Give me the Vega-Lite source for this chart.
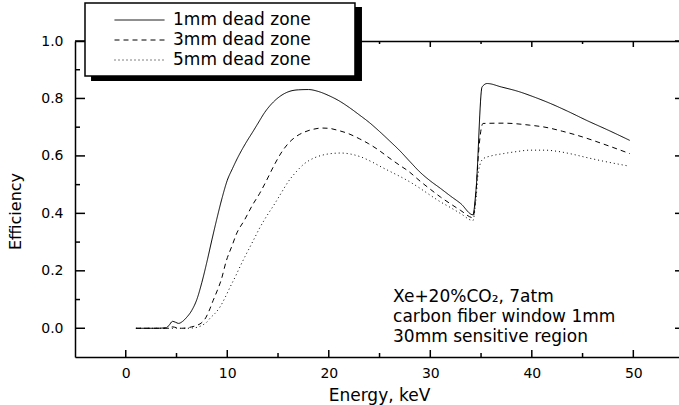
{
  "$schema": "https://vega.github.io/schema/vega-lite/v6.json",
  "width": 604,
  "height": 316,
  "autosize": {"type": "none"},
  "padding": {"left": 75, "top": 41, "right": 0, "bottom": 48},
  "background": "white",
  "config": {
    "view": {"stroke": null},
    "font": "DejaVu Sans",
    "axis": {
      "domainColor": "black", "domainWidth": 1.5,
      "labelColor": "black", "labelFont": "DejaVu Sans", "labelFontSize": 14,
      "titleColor": "black", "titleFont": "DejaVu Sans", "titleFontWeight": "normal",
      "grid": false, "labelOverlap": false, "labelFlush": false
    }
  },
  "datasets": {
    "curves": [
      {"E": 1, "eff": 0, "series": "1mm dead zone"},
      {"E": 2, "eff": 0, "series": "1mm dead zone"},
      {"E": 3, "eff": 0, "series": "1mm dead zone"},
      {"E": 4, "eff": 0.002, "series": "1mm dead zone"},
      {"E": 4.3, "eff": 0.012, "series": "1mm dead zone"},
      {"E": 4.6, "eff": 0.024, "series": "1mm dead zone"},
      {"E": 4.9, "eff": 0.021, "series": "1mm dead zone"},
      {"E": 5.2, "eff": 0.017, "series": "1mm dead zone"},
      {"E": 5.6, "eff": 0.024, "series": "1mm dead zone"},
      {"E": 6, "eff": 0.038, "series": "1mm dead zone"},
      {"E": 6.5, "eff": 0.062, "series": "1mm dead zone"},
      {"E": 7, "eff": 0.1, "series": "1mm dead zone"},
      {"E": 7.5, "eff": 0.16, "series": "1mm dead zone"},
      {"E": 8, "eff": 0.232, "series": "1mm dead zone"},
      {"E": 8.5, "eff": 0.31, "series": "1mm dead zone"},
      {"E": 9, "eff": 0.385, "series": "1mm dead zone"},
      {"E": 9.5, "eff": 0.455, "series": "1mm dead zone"},
      {"E": 10, "eff": 0.515, "series": "1mm dead zone"},
      {"E": 10.5, "eff": 0.555, "series": "1mm dead zone"},
      {"E": 11, "eff": 0.592, "series": "1mm dead zone"},
      {"E": 11.5, "eff": 0.625, "series": "1mm dead zone"},
      {"E": 12, "eff": 0.655, "series": "1mm dead zone"},
      {"E": 12.5, "eff": 0.683, "series": "1mm dead zone"},
      {"E": 13, "eff": 0.712, "series": "1mm dead zone"},
      {"E": 13.7, "eff": 0.752, "series": "1mm dead zone"},
      {"E": 14.7, "eff": 0.793, "series": "1mm dead zone"},
      {"E": 15.3, "eff": 0.81, "series": "1mm dead zone"},
      {"E": 16, "eff": 0.823, "series": "1mm dead zone"},
      {"E": 17, "eff": 0.83, "series": "1mm dead zone"},
      {"E": 18, "eff": 0.831, "series": "1mm dead zone"},
      {"E": 19, "eff": 0.824, "series": "1mm dead zone"},
      {"E": 20, "eff": 0.81, "series": "1mm dead zone"},
      {"E": 21, "eff": 0.792, "series": "1mm dead zone"},
      {"E": 22, "eff": 0.769, "series": "1mm dead zone"},
      {"E": 23, "eff": 0.743, "series": "1mm dead zone"},
      {"E": 24, "eff": 0.716, "series": "1mm dead zone"},
      {"E": 25, "eff": 0.685, "series": "1mm dead zone"},
      {"E": 26, "eff": 0.652, "series": "1mm dead zone"},
      {"E": 27, "eff": 0.618, "series": "1mm dead zone"},
      {"E": 28, "eff": 0.58, "series": "1mm dead zone"},
      {"E": 29, "eff": 0.543, "series": "1mm dead zone"},
      {"E": 30, "eff": 0.513, "series": "1mm dead zone"},
      {"E": 31, "eff": 0.487, "series": "1mm dead zone"},
      {"E": 32, "eff": 0.46, "series": "1mm dead zone"},
      {"E": 33, "eff": 0.434, "series": "1mm dead zone"},
      {"E": 34.2, "eff": 0.395, "series": "1mm dead zone"},
      {"E": 34.5, "eff": 0.48, "series": "1mm dead zone"},
      {"E": 35.1, "eff": 0.84, "series": "1mm dead zone"},
      {"E": 35.6, "eff": 0.852, "series": "1mm dead zone"},
      {"E": 37, "eff": 0.84, "series": "1mm dead zone"},
      {"E": 38.8, "eff": 0.823, "series": "1mm dead zone"},
      {"E": 40, "eff": 0.808, "series": "1mm dead zone"},
      {"E": 41.8, "eff": 0.783, "series": "1mm dead zone"},
      {"E": 43.5, "eff": 0.756, "series": "1mm dead zone"},
      {"E": 45.5, "eff": 0.722, "series": "1mm dead zone"},
      {"E": 47.5, "eff": 0.69, "series": "1mm dead zone"},
      {"E": 49.65, "eff": 0.654, "series": "1mm dead zone"},

      {"E": 1, "eff": 0, "series": "3mm dead zone"},
      {"E": 3, "eff": 0, "series": "3mm dead zone"},
      {"E": 4.2, "eff": 0, "series": "3mm dead zone"},
      {"E": 4.6, "eff": 0.005, "series": "3mm dead zone"},
      {"E": 5, "eff": 0.002, "series": "3mm dead zone"},
      {"E": 5.5, "eff": 0, "series": "3mm dead zone"},
      {"E": 6, "eff": 0.001, "series": "3mm dead zone"},
      {"E": 6.5, "eff": 0.005, "series": "3mm dead zone"},
      {"E": 7, "eff": 0.01, "series": "3mm dead zone"},
      {"E": 7.5, "eff": 0.02, "series": "3mm dead zone"},
      {"E": 7.8, "eff": 0.032, "series": "3mm dead zone"},
      {"E": 8.2, "eff": 0.06, "series": "3mm dead zone"},
      {"E": 8.6, "eff": 0.096, "series": "3mm dead zone"},
      {"E": 9, "eff": 0.13, "series": "3mm dead zone"},
      {"E": 9.4, "eff": 0.168, "series": "3mm dead zone"},
      {"E": 9.9, "eff": 0.234, "series": "3mm dead zone"},
      {"E": 10.5, "eff": 0.29, "series": "3mm dead zone"},
      {"E": 10.9, "eff": 0.328, "series": "3mm dead zone"},
      {"E": 11.7, "eff": 0.377, "series": "3mm dead zone"},
      {"E": 12.5, "eff": 0.43, "series": "3mm dead zone"},
      {"E": 13.2, "eff": 0.47, "series": "3mm dead zone"},
      {"E": 13.7, "eff": 0.503, "series": "3mm dead zone"},
      {"E": 14.7, "eff": 0.573, "series": "3mm dead zone"},
      {"E": 15.3, "eff": 0.61, "series": "3mm dead zone"},
      {"E": 16, "eff": 0.643, "series": "3mm dead zone"},
      {"E": 16.8, "eff": 0.668, "series": "3mm dead zone"},
      {"E": 17.6, "eff": 0.683, "series": "3mm dead zone"},
      {"E": 18.5, "eff": 0.693, "series": "3mm dead zone"},
      {"E": 19.3, "eff": 0.697, "series": "3mm dead zone"},
      {"E": 20, "eff": 0.696, "series": "3mm dead zone"},
      {"E": 21, "eff": 0.688, "series": "3mm dead zone"},
      {"E": 21.9, "eff": 0.678, "series": "3mm dead zone"},
      {"E": 23, "eff": 0.66, "series": "3mm dead zone"},
      {"E": 23.9, "eff": 0.643, "series": "3mm dead zone"},
      {"E": 25, "eff": 0.618, "series": "3mm dead zone"},
      {"E": 25.8, "eff": 0.597, "series": "3mm dead zone"},
      {"E": 27, "eff": 0.567, "series": "3mm dead zone"},
      {"E": 27.8, "eff": 0.548, "series": "3mm dead zone"},
      {"E": 29, "eff": 0.512, "series": "3mm dead zone"},
      {"E": 30, "eff": 0.484, "series": "3mm dead zone"},
      {"E": 31, "eff": 0.457, "series": "3mm dead zone"},
      {"E": 32, "eff": 0.433, "series": "3mm dead zone"},
      {"E": 33, "eff": 0.41, "series": "3mm dead zone"},
      {"E": 34.2, "eff": 0.385, "series": "3mm dead zone"},
      {"E": 34.5, "eff": 0.47, "series": "3mm dead zone"},
      {"E": 34.75, "eff": 0.61, "series": "3mm dead zone"},
      {"E": 35.2, "eff": 0.713, "series": "3mm dead zone"},
      {"E": 37.2, "eff": 0.714, "series": "3mm dead zone"},
      {"E": 39.8, "eff": 0.707, "series": "3mm dead zone"},
      {"E": 41.3, "eff": 0.7, "series": "3mm dead zone"},
      {"E": 43, "eff": 0.686, "series": "3mm dead zone"},
      {"E": 45, "eff": 0.666, "series": "3mm dead zone"},
      {"E": 47, "eff": 0.642, "series": "3mm dead zone"},
      {"E": 49.65, "eff": 0.608, "series": "3mm dead zone"},

      {"E": 1, "eff": 0, "series": "5mm dead zone"},
      {"E": 3, "eff": 0, "series": "5mm dead zone"},
      {"E": 5, "eff": 0, "series": "5mm dead zone"},
      {"E": 6, "eff": 0, "series": "5mm dead zone"},
      {"E": 7, "eff": 0.003, "series": "5mm dead zone"},
      {"E": 7.5, "eff": 0.01, "series": "5mm dead zone"},
      {"E": 8, "eff": 0.022, "series": "5mm dead zone"},
      {"E": 8.3, "eff": 0.035, "series": "5mm dead zone"},
      {"E": 8.8, "eff": 0.052, "series": "5mm dead zone"},
      {"E": 9.3, "eff": 0.075, "series": "5mm dead zone"},
      {"E": 9.8, "eff": 0.108, "series": "5mm dead zone"},
      {"E": 10.3, "eff": 0.145, "series": "5mm dead zone"},
      {"E": 10.8, "eff": 0.18, "series": "5mm dead zone"},
      {"E": 11.25, "eff": 0.214, "series": "5mm dead zone"},
      {"E": 11.75, "eff": 0.25, "series": "5mm dead zone"},
      {"E": 12.25, "eff": 0.284, "series": "5mm dead zone"},
      {"E": 12.7, "eff": 0.315, "series": "5mm dead zone"},
      {"E": 13.1, "eff": 0.343, "series": "5mm dead zone"},
      {"E": 13.7, "eff": 0.38, "series": "5mm dead zone"},
      {"E": 14.7, "eff": 0.435, "series": "5mm dead zone"},
      {"E": 15.3, "eff": 0.47, "series": "5mm dead zone"},
      {"E": 16, "eff": 0.51, "series": "5mm dead zone"},
      {"E": 16.8, "eff": 0.545, "series": "5mm dead zone"},
      {"E": 17.6, "eff": 0.573, "series": "5mm dead zone"},
      {"E": 18.5, "eff": 0.592, "series": "5mm dead zone"},
      {"E": 19.3, "eff": 0.602, "series": "5mm dead zone"},
      {"E": 20.2, "eff": 0.608, "series": "5mm dead zone"},
      {"E": 21.2, "eff": 0.61, "series": "5mm dead zone"},
      {"E": 22.2, "eff": 0.606, "series": "5mm dead zone"},
      {"E": 23.2, "eff": 0.596, "series": "5mm dead zone"},
      {"E": 24.2, "eff": 0.58, "series": "5mm dead zone"},
      {"E": 25.2, "eff": 0.561, "series": "5mm dead zone"},
      {"E": 26.2, "eff": 0.543, "series": "5mm dead zone"},
      {"E": 27.2, "eff": 0.525, "series": "5mm dead zone"},
      {"E": 28.2, "eff": 0.505, "series": "5mm dead zone"},
      {"E": 29, "eff": 0.487, "series": "5mm dead zone"},
      {"E": 30, "eff": 0.463, "series": "5mm dead zone"},
      {"E": 31, "eff": 0.44, "series": "5mm dead zone"},
      {"E": 32, "eff": 0.42, "series": "5mm dead zone"},
      {"E": 33, "eff": 0.399, "series": "5mm dead zone"},
      {"E": 34.2, "eff": 0.375, "series": "5mm dead zone"},
      {"E": 34.5, "eff": 0.45, "series": "5mm dead zone"},
      {"E": 34.75, "eff": 0.548, "series": "5mm dead zone"},
      {"E": 35.2, "eff": 0.59, "series": "5mm dead zone"},
      {"E": 36, "eff": 0.6, "series": "5mm dead zone"},
      {"E": 37.2, "eff": 0.608, "series": "5mm dead zone"},
      {"E": 38.5, "eff": 0.615, "series": "5mm dead zone"},
      {"E": 39.8, "eff": 0.62, "series": "5mm dead zone"},
      {"E": 41.3, "eff": 0.62, "series": "5mm dead zone"},
      {"E": 42.5, "eff": 0.616, "series": "5mm dead zone"},
      {"E": 44, "eff": 0.606, "series": "5mm dead zone"},
      {"E": 45.2, "eff": 0.596, "series": "5mm dead zone"},
      {"E": 47, "eff": 0.582, "series": "5mm dead zone"},
      {"E": 49.5, "eff": 0.565, "series": "5mm dead zone"}
    ]
  },
  "layer": [
    {
      "data": {"values": [{}]},
      "mark": {"type": "rect", "fill": "black", "stroke": null},
      "encoding": {
        "x": {"datum": -3.42, "type": "quantitative", "axis": null, "scale": {"domain": [-5, 54.5], "nice": false, "zero": false}},
        "x2": {"datum": 23.27},
        "y": {"datum": 1.1185, "type": "quantitative", "axis": null, "scale": {"domain": [-0.1, 1.0], "nice": false, "zero": false}},
        "y2": {"datum": 0.861}
      }
    },
    {
      "data": {"values": [{}]},
      "mark": {"type": "rect", "fill": "white", "stroke": "black", "strokeWidth": 1.5},
      "encoding": {
        "x": {"datum": -4.015, "type": "quantitative", "axis": null},
        "x2": {"datum": 22.58},
        "y": {"datum": 1.1324, "type": "quantitative", "axis": null},
        "y2": {"datum": 0.8783}
      }
    },
    {
      "data": {"name": "curves"},
      "mark": {"type": "line", "color": "black", "strokeWidth": 1, "interpolate": "monotone"},
      "encoding": {
        "x": {
          "field": "E", "type": "quantitative",
          "axis": {
            "orient": "bottom",
            "values": [0, 10, 20, 30, 40, 50],
            "ticks": false, "tickSize": 0,
            "labelPadding": 9,
            "title": "Energy, keV",
            "titleFontSize": 17,
            "titleX": 304, "titleY": 43, "titleBaseline": "alphabetic", "titleAlign": "center"
          }
        },
        "y": {
          "field": "eff", "type": "quantitative",
          "axis": {
            "orient": "left",
            "values": [0, 0.2, 0.4, 0.6, 0.8, 1.0],
            "format": ".1f",
            "ticks": false, "tickSize": 0,
            "labelPadding": 12,
            "title": "Efficiency",
            "titleFontSize": 16,
            "titleX": -60, "titleY": 170, "titleAngle": 270,
            "titleAlign": "center", "titleBaseline": "middle"
          }
        },
        "strokeDash": {
          "field": "series", "type": "nominal",
          "scale": {
            "domain": ["1mm dead zone", "3mm dead zone", "5mm dead zone"],
            "range": [[1, 0], [5, 4], [1, 3]]
          },
          "legend": {
            "title": null, "orient": "none", "legendX": 39, "legendY": -31,
            "symbolType": "stroke", "symbolSize": 2500, "symbolStrokeWidth": 1,
            "symbolStrokeColor": "black",
            "labelFont": "DejaVu Sans", "labelFontSize": 17, "labelColor": "black",
            "labelOffset": 8, "rowPadding": 0, "clipHeight": 20, "padding": 0, "zindex": 1
          }
        }
      }
    },
    {
      "data": {"name": "curves"},
      "mark": {"type": "point", "opacity": 0},
      "encoding": {
        "x": {
          "field": "E", "type": "quantitative",
          "axis": {"orient": "top", "values": [0, 10, 20, 30, 40, 50],
                   "labels": false, "title": null, "ticks": false, "tickSize": 0, "domain": true}
        },
        "y": {"field": "eff", "type": "quantitative", "axis": null}
      }
    },
    {
      "data": {"values": [{}]},
      "mark": {
        "type": "text", "align": "left", "baseline": "alphabetic",
        "font": "DejaVu Sans", "fontSize": 17, "lineHeight": 20, "color": "black",
        "text": ["Xe+20%CO₂, 7atm", "carbon fiber window 1mm", "30mm sensitive region"]
      },
      "encoding": {
        "x": {"datum": 26.33, "type": "quantitative", "axis": null},
        "y": {"datum": 0.0926, "type": "quantitative", "axis": null}
      }
    },
    {
      "data": {"values": [{"t": 0}, {"t": 10}, {"t": 20}, {"t": 30}, {"t": 40}, {"t": 50}]},
      "mark": {"type": "rect", "fill": "black", "xOffset": -0.75, "x2Offset": 0.75, "y2Offset": -7},
      "encoding": {
        "x": {"field": "t", "type": "quantitative", "axis": null},
        "x2": {"field": "t"},
        "y": {"datum": -0.1, "type": "quantitative", "axis": null},
        "y2": {"datum": -0.1}
      }
    },
    {
      "data": {"values": [{"t": 5}, {"t": 15}, {"t": 25}, {"t": 35}, {"t": 45}]},
      "mark": {"type": "rect", "fill": "black", "xOffset": -0.75, "x2Offset": 0.75, "y2Offset": -4},
      "encoding": {
        "x": {"field": "t", "type": "quantitative", "axis": null},
        "x2": {"field": "t"},
        "y": {"datum": -0.1, "type": "quantitative", "axis": null},
        "y2": {"datum": -0.1}
      }
    },
    {
      "data": {"values": [{"t": 30}, {"t": 40}, {"t": 50}]},
      "mark": {"type": "rect", "fill": "black", "xOffset": -0.75, "x2Offset": 0.75, "y2Offset": 6},
      "encoding": {
        "x": {"field": "t", "type": "quantitative", "axis": null},
        "x2": {"field": "t"},
        "y": {"datum": 1.0, "type": "quantitative", "axis": null},
        "y2": {"datum": 1.0}
      }
    },
    {
      "data": {"values": [{"t": 25}, {"t": 35}, {"t": 45}]},
      "mark": {"type": "rect", "fill": "black", "xOffset": -0.75, "x2Offset": 0.75, "y2Offset": 3},
      "encoding": {
        "x": {"field": "t", "type": "quantitative", "axis": null},
        "x2": {"field": "t"},
        "y": {"datum": 1.0, "type": "quantitative", "axis": null},
        "y2": {"datum": 1.0}
      }
    },
    {
      "data": {"values": [{"t": 0}, {"t": 0.2}, {"t": 0.4}, {"t": 0.6}, {"t": 0.8}, {"t": 1.0}]},
      "mark": {"type": "rect", "fill": "black", "yOffset": -0.75, "y2Offset": 0.75, "x2Offset": 10},
      "encoding": {
        "y": {"field": "t", "type": "quantitative", "axis": null},
        "y2": {"field": "t"},
        "x": {"datum": -5, "type": "quantitative", "axis": null},
        "x2": {"datum": -5}
      }
    },
    {
      "data": {"values": [{"t": 0.1}, {"t": 0.3}, {"t": 0.5}, {"t": 0.7}, {"t": 0.9}]},
      "mark": {"type": "rect", "fill": "black", "yOffset": -0.75, "y2Offset": 0.75, "x2Offset": 5},
      "encoding": {
        "y": {"field": "t", "type": "quantitative", "axis": null},
        "y2": {"field": "t"},
        "x": {"datum": -5, "type": "quantitative", "axis": null},
        "x2": {"datum": -5}
      }
    },
    {
      "data": {"values": [{"t": 0}, {"t": 0.2}, {"t": 0.4}, {"t": 0.6}, {"t": 0.8}, {"t": 1.0}]},
      "mark": {"type": "rect", "fill": "black", "yOffset": -0.75, "y2Offset": 0.75, "x2Offset": -4},
      "encoding": {
        "y": {"field": "t", "type": "quantitative", "axis": null},
        "y2": {"field": "t"},
        "x": {"datum": 54.5, "type": "quantitative", "axis": null},
        "x2": {"datum": 54.5}
      }
    }
  ],
  "resolve": {"axis": {"x": "independent", "y": "independent"}}
}
